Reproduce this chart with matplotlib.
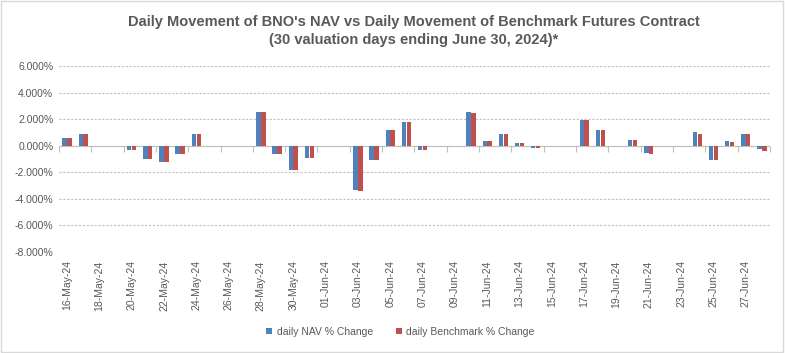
import matplotlib
matplotlib.use("Agg")
import matplotlib.pyplot as plt
import matplotlib.dates as mdates
from matplotlib.ticker import FuncFormatter, MultipleLocator
from matplotlib.patches import Rectangle
import pandas as pd
import numpy as np

# trading days and daily % changes
days = ["2024-05-16", "2024-05-17", "2024-05-20", "2024-05-21", "2024-05-22",
        "2024-05-23", "2024-05-24", "2024-05-28", "2024-05-29", "2024-05-30",
        "2024-05-31", "2024-06-03", "2024-06-04", "2024-06-05", "2024-06-06",
        "2024-06-07", "2024-06-10", "2024-06-11", "2024-06-12", "2024-06-13",
        "2024-06-14", "2024-06-17", "2024-06-18", "2024-06-20", "2024-06-21",
        "2024-06-24", "2024-06-25", "2024-06-26", "2024-06-27", "2024-06-28"]
nav_change = [0.62, 0.85, -0.30, -0.97, -1.25, -0.65, 0.92, 2.57, -0.65, -1.85,
              -0.95, -3.35, -1.10, 1.15, 1.82, -0.35, 2.57, 0.32, 0.85, 0.17,
              -0.20, 1.90, 1.22, 0.40, -0.57, 1.00, -1.10, 0.32, 0.92, -0.27]
bench_change = [0.62, 0.85, -0.30, -0.97, -1.25, -0.65, 0.85, 2.57, -0.65, -1.85,
                -0.95, -3.42, -1.10, 1.15, 1.82, -0.35, 2.50, 0.32, 0.85, 0.17,
                -0.20, 1.90, 1.22, 0.40, -0.65, 0.92, -1.10, 0.25, 0.92, -0.37]

plt.rcParams['font.family'] = ['Liberation Sans', 'DejaVu Sans']
grey = "#595959"

fig = plt.figure(figsize=(7.85, 3.53), dpi=100)
ax = fig.add_axes([0.075, 0.286, 0.906, 0.527])

x = mdates.date2num(pd.to_datetime(days))
ax.bar(x - 0.15, nav_change, width=0.27, color="#4F81BD", label="daily NAV % Change", zorder=3)
ax.bar(x + 0.15, bench_change, width=0.27, color="#C0504D", label="daily Benchmark % Change", zorder=3)

start = mdates.date2num(pd.Timestamp("2024-05-16"))
end = mdates.date2num(pd.Timestamp("2024-06-28"))
ax.set_xlim(start - 0.5, end + 0.5)
ax.set_ylim(-8, 6)

# y axis
ax.yaxis.set_major_locator(MultipleLocator(2))
ax.yaxis.set_major_formatter(FuncFormatter(lambda v, p: "%.3f%%" % v))
ax.grid(axis="y", color="#BFBFBF", linestyle=(0, (2, 1.5)), linewidth=0.8, zorder=0)
ax.tick_params(axis="y", length=0, labelsize=7.5, labelcolor=grey, pad=4)

# x labels under the plot, every 2nd day
ax.set_xticks(np.arange(start, end + 1, 2))
ax.xaxis.set_major_formatter(mdates.DateFormatter("%d-%b-%y"))
ax.tick_params(axis="x", length=0, labelsize=7.5, labelcolor=grey, rotation=90, pad=6)

for s in ax.spines.values():
    s.set_visible(False)

# axis line at zero with tick marks on day boundaries
ax.axhline(0, color="#BFBFBF", linewidth=0.8, zorder=2)
sec = ax.secondary_xaxis(8 / 14)
sec.set_xticks(np.arange(start - 0.5, end + 1, 2))
sec.tick_params(axis="x", length=4, color="#BFBFBF", labelbottom=False, labeltop=False,
                direction="out", bottom=True, top=False)
sec.xaxis.set_ticks_position("bottom")
sec.set_xticklabels([])
sec.spines["bottom"].set_visible(False)
sec.spines["top"].set_visible(False)

fig.text(0.527, 0.937, "Daily Movement of BNO's NAV vs Daily Movement of Benchmark Futures Contract",
         ha="center", va="center", fontsize=10.5, fontweight="bold", color=grey)
fig.text(0.527, 0.886, "(30 valuation days ending June 30, 2024)*",
         ha="center", va="center", fontsize=10.5, fontweight="bold", color=grey)

ax.legend(loc="center", bbox_to_anchor=(0.51, 0.06), bbox_transform=fig.transFigure,
          ncol=2, frameon=False, fontsize=7.5, labelcolor=grey, handlelength=0.6,
          handleheight=0.6, handletextpad=0.4, columnspacing=2.2)

fig.patches.append(Rectangle((0.001, 0.002), 0.997, 0.995, transform=fig.transFigure,
                             fill=False, edgecolor="#D9D9D9", linewidth=1))

plt.savefig("out.png", dpi=100)
